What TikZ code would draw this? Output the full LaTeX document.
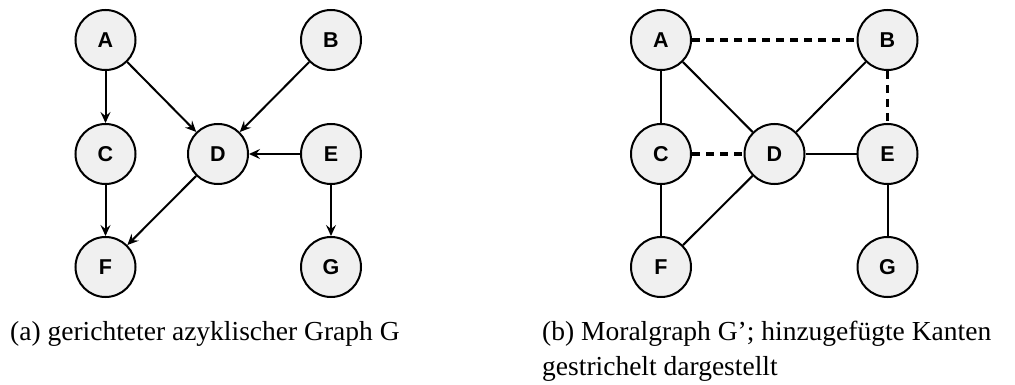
\documentclass[tikz,border=0pt]{standalone}
\usepackage{fontspec}
\setmainfont{Liberation Serif}
\newfontfamily\nodefont{Liberation Sans}
\usetikzlibrary{arrows.meta}
\definecolor{nodefill}{HTML}{F0F0F0}
\tikzset{
  vertex/.style={circle, draw=black, line width=2pt, fill=nodefill, minimum size=60pt, inner sep=0pt, font=\nodefont\fontsize{21.5}{24}\selectfont\bfseries},
  diredge/.style={line width=2pt, -{Stealth[length=11pt,width=10pt,inset=4pt]}},
  undedge/.style={line width=2pt},
  addedge/.style={line width=3.5pt, dash pattern=on 8pt off 6pt},
  caption/.style={anchor=base west, inner sep=0pt, font=\fontsize{27.5}{37}\selectfont}
}
\begin{document}
\begin{tikzpicture}[x=1pt,y=1pt]
\useasboundingbox (0,0) rectangle (1015,-385);
% left graph
\node[vertex] (a1) at (105.5,-40) {A};
\node[vertex] (b1) at (331,-40) {B};
\node[vertex] (c1) at (105.5,-154) {C};
\node[vertex] (d1) at (218,-154) {D};
\node[vertex] (e1) at (331,-154) {E};
\node[vertex] (f1) at (105.5,-267) {F};
\node[vertex] (g1) at (331,-267) {G};
\draw[diredge] (a1) -- (c1);
\draw[diredge] (a1) -- (d1);
\draw[diredge] (b1) -- (d1);
\draw[diredge] (e1) -- (d1);
\draw[diredge] (c1) -- (f1);
\draw[diredge] (d1) -- (f1);
\draw[diredge] (e1) -- (g1);
% right graph
\node[vertex] (a2) at (661,-40) {A};
\node[vertex] (b2) at (887.5,-40) {B};
\node[vertex] (c2) at (661,-154) {C};
\node[vertex] (d2) at (774.5,-154) {D};
\node[vertex] (e2) at (887.5,-154) {E};
\node[vertex] (f2) at (661,-267) {F};
\node[vertex] (g2) at (887.5,-267) {G};
\draw[undedge] (a2) -- (c2);
\draw[undedge] (a2) -- (d2);
\draw[undedge] (b2) -- (d2);
\draw[undedge] (d2) -- (e2);
\draw[undedge] (c2) -- (f2);
\draw[undedge] (d2) -- (f2);
\draw[undedge] (e2) -- (g2);
\draw[addedge] (a2) -- (b2);
\draw[addedge] (b2) -- (e2);
\draw[addedge] (c2) -- (d2);
% captions
\node[caption] (capa) at (10,-340) {(a) gerichteter azyklischer Graph G};
\node[caption] (capb1) at (542,-340) {(b) Moralgraph G’; hinzugefügte Kanten};
\node[caption] (capb2) at (542,-375) {gestrichelt dargestellt};
\end{tikzpicture}
\end{document}
